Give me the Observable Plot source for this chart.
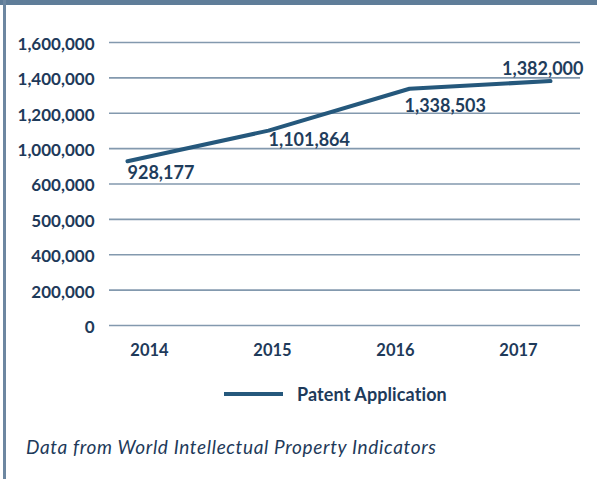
<!DOCTYPE html>
<html>
<head>
<meta charset="utf-8">
<script src="https://cdn.jsdelivr.net/npm/d3@7"></script>
<script src="https://cdn.jsdelivr.net/npm/@observablehq/plot@0.6"></script>
<style>
  html, body { margin: 0; padding: 0; background: #fff; }
  #wrap { position: relative; width: 597px; height: 479px; overflow: hidden; background: #fff; font-family: Lato, "Open Sans", sans-serif; }
  #topband { position: absolute; left: 0; top: 0; width: 597px; height: 5px; background: #5f7d99; }
  #leftbar { position: absolute; left: 3px; top: 0; width: 3px; height: 479px; background: #6d87a1; }
  .layer { position: absolute; left: 0; top: 0; }
  #legend { position: absolute; left: 224px; top: 382px; height: 24px; display: flex; align-items: center; color: #1e3a5a; font-weight: bold; font-size: 18px; letter-spacing: 0.1px; }
  #legend .swatch { display: inline-block; width: 59px; height: 4px; background: #25587c; margin-right: 14px; }
  #caption { position: absolute; left: 26px; top: 435px; font-style: italic; font-size: 19px; color: #1e3a5a; letter-spacing: 0.65px; }
</style>
</head>
<body>
<div id="wrap">
  <div id="topband"></div>
  <div id="leftbar"></div>
  <div id="base" class="layer"></div>
  <div id="over" class="layer"></div>
  <div id="legend"><span class="swatch"></span><span></span></div>
  <div id="caption">Data from World Intellectual Property Indicators</div>
</div>
<script>
// ---- data ----
const years = [2014, 2015, 2016, 2017];
const applications = [928177, 1101864, 1338503, 1382000];
const valueLabels = ["928,177", "1,101,864", "1,338,503", "1,382,000"];
const yTickValues = [0, 200000, 400000, 600000, 800000, 1000000, 1200000, 1400000, 1600000];
const yTickLabels = ["0", "200,000", "400,000", "500,000", "600,000", "1,000,000", "1,200,000", "1,400,000", "1,600,000"];
const seriesName = "Patent Application";

const rows = years.map((year, i) => ({year, value: applications[i], label: valueLabels[i]}));

const W = 597, H = 375;
const yScale = {domain: [0, 1600000]};
const textColor = "#1e3a5a";

// ---- base layer: grid, y axis, year labels ----
const base = Plot.plot({
  width: W, height: H,
  marginLeft: 109, marginRight: 17, marginTop: 42, marginBottom: 50,
  style: {fontFamily: "Lato, sans-serif", fontSize: "17px", fontWeight: "bold", color: textColor, background: "transparent", overflow: "visible"},
  x: {type: "point", domain: years.map(String), range: [148, 519], padding: 0},
  y: yScale,
  marks: [
    Plot.ruleY(yTickValues, {stroke: "#8399ae", strokeWidth: 1.6}),
    Plot.axisY({
      ticks: yTickValues, tickSize: 0, tickPadding: 15, dy: 2,
      tickFormat: (d) => yTickLabels[yTickValues.indexOf(d)], label: null,
      style: {letterSpacing: "0.35px"}
    }),
    Plot.axisX({tickSize: 0, tickPadding: 19, label: null, fontSize: 16.5, style: {letterSpacing: "0.8px"}})
  ]
});
document.getElementById("base").appendChild(base);

// ---- overlay: the line and its value labels ----
const labelMark = (i, opts) => Plot.text(rows.filter((d, j) => j === i), {
  x: "year", y: "value", text: "label",
  fill: "#1f3d5c", fontSize: 18, fontWeight: "bold", ...opts
});

const over = Plot.plot({
  width: W, height: H,
  marginLeft: 127, marginRight: 47, marginTop: 42, marginBottom: 50,
  style: {fontFamily: "Lato, sans-serif", background: "transparent", overflow: "visible", letterSpacing: "0px"},
  x: {domain: [2014, 2017], axis: null},
  y: {...yScale, axis: null},
  marks: [
    Plot.line(rows, {x: "year", y: "value", stroke: "#25587c", strokeWidth: 4, strokeLinejoin: "miter"}),
    labelMark(0, {textAnchor: "start", dx: 0, dy: 12}),
    labelMark(1, {textAnchor: "start", dx: 0, dy: 10}),
    labelMark(2, {textAnchor: "start", dx: -5, dy: 17}),
    labelMark(3, {textAnchor: "end", dx: 33, dy: -12})
  ]
});
document.getElementById("over").appendChild(over);
document.querySelector("#legend span:last-child").textContent = seriesName;
</script>
</body>
</html>
